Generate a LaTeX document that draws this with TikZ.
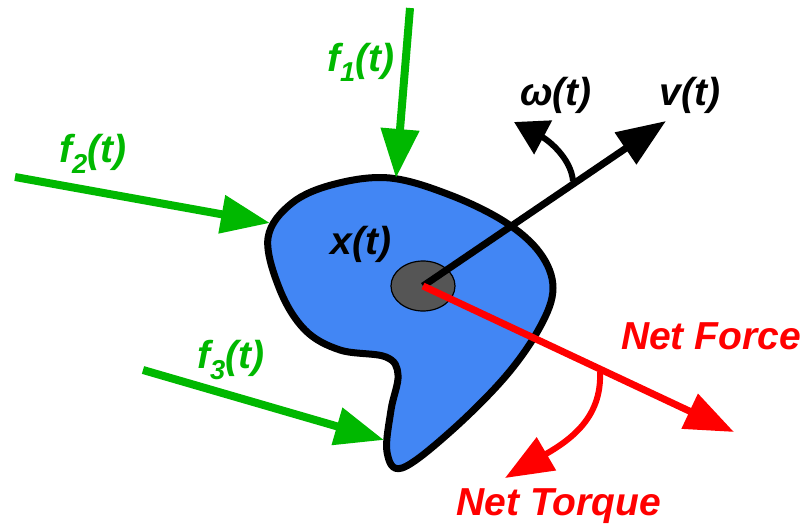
\documentclass[tikz,border=0pt]{standalone}
\usepackage{fontspec}
\setmainfont{Liberation Sans}
\usetikzlibrary{arrows.meta,shapes.geometric}
\definecolor{blobblue}{RGB}{66,134,244}
\definecolor{fgreen}{RGB}{0,184,0}
\definecolor{fred}{RGB}{255,0,0}
\definecolor{cgray}{RGB}{85,85,85}
\tikzset{
  lbl/.style={font=\fontsize{39}{42}\selectfont\bfseries\itshape, inner sep=0pt},
  bigtip/.style={-{Triangle[length=49pt,width=37pt]}},
  garrow/.style={draw=fgreen, line width=8pt, bigtip},
  karrow/.style={draw=black, line width=7pt, bigtip},
  rarrow/.style={draw=fred, line width=7pt, bigtip},
  karc/.style={draw=black, line width=6pt, -{Triangle[length=33pt,width=37pt]}},
  rarc/.style={draw=fred, line width=6pt, -{Triangle[length=48pt,width=37pt]}},
}
\begin{document}
\begin{tikzpicture}[x=1pt,y=-1pt]
\useasboundingbox (0,0) rectangle (806,527);
% body
\draw[fill=blobblue, line width=7pt, line join=round]
  plot[smooth cycle, tension=0.6] coordinates {
  (268,238) (292,203) (335,184) (390,178) (450,195) (505,222) (540,253) (553,288)
  (540,327) (505,377) (450,432) (402,468) (387,452) (391,410) (398,375)
  (386,357) (340,350) (305,330) (280,290)};
% centre
\node[draw=black, line width=1.2pt, fill=cgray, ellipse, minimum width=64pt, minimum height=50pt, inner sep=0pt] (cm) at (423,286) {};
\coordinate (c) at (423,286);
% coordinates
\coordinate (f1s) at (410,8);   \coordinate (f1e) at (396,178);
\coordinate (f2s) at (15,177);  \coordinate (f2e) at (270,223);
\coordinate (f3s) at (143,370); \coordinate (f3e) at (384,440);
\coordinate (ve) at (666,121);
\coordinate (fe) at (734,432);
\coordinate (wb) at (573,181);  \coordinate (we) at (514,122);
\coordinate (tb) at (600,372);  \coordinate (te) at (505,478);
% arrows
\draw[garrow] (f1s) -- (f1e);
\draw[garrow] (f2s) -- (f2e);
\draw[garrow] (f3s) -- (f3e);
\draw[karrow] (c) -- (ve);
\draw[rarrow] (c) -- (fe);
\draw[karc] (wb) .. controls (571,158) and (548,140) .. (we);
\draw[rarc] (tb) .. controls (602,418) and (570,440) .. (te);
% labels
\node[lbl, text=fgreen] (l1) at (361,62) {f\textsubscript{1}(t)};
\node[lbl, text=fgreen] (l2) at (93,154) {f\textsubscript{2}(t)};
\node[lbl, text=fgreen] (l3) at (231,360) {f\textsubscript{3}(t)};
\node[lbl] (lx) at (361,244) {x(t)};
\node[lbl] (lw) at (556,95) {ω(t)};
\node[lbl] (lv) at (690,95) {v(t)};
\node[lbl, text=fred] (lf) at (711,336) {Net Force};
\node[lbl, text=fred] (lt) at (559,506) {Net Torque};
\end{tikzpicture}
\end{document}
